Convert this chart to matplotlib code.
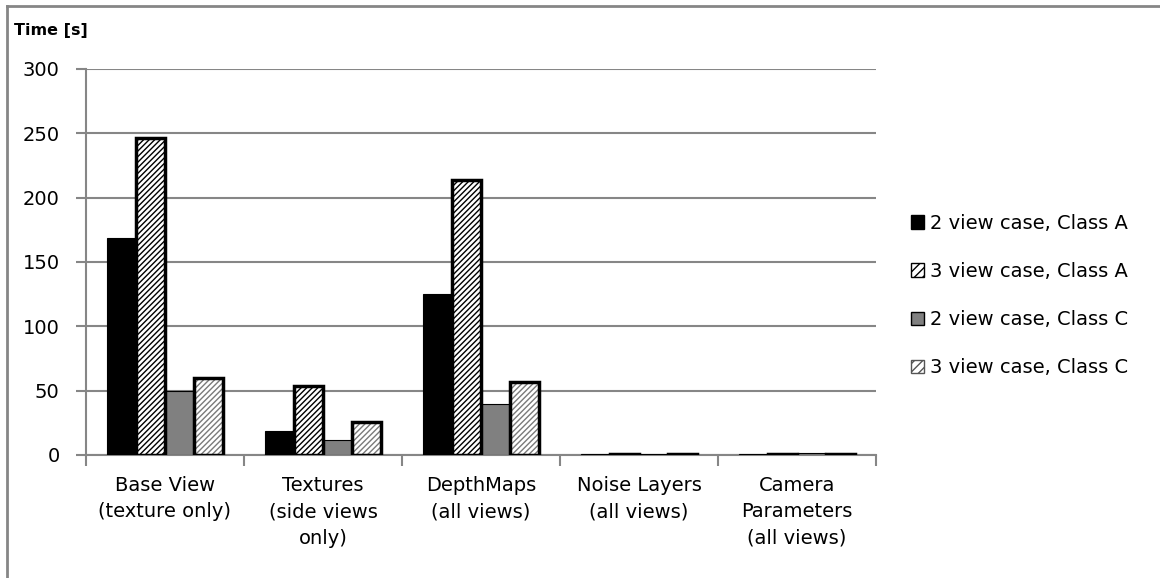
import matplotlib
matplotlib.use("Agg")
import matplotlib.pyplot as plt
import numpy as np
from matplotlib.lines import Line2D
from matplotlib.patches import Patch

categories = ["Base View\n(texture only)", "Textures\n(side views\nonly)",
              "DepthMaps\n(all views)", "Noise Layers\n(all views)",
              "Camera\nParameters\n(all views)"]
series_names = ["2 view case, Class A", "3 view case, Class A",
                "2 view case, Class C", "3 view case, Class C"]
v2A = [169, 19, 125, 0.5, 0.5]
v3A = [246, 54, 214, 0.5, 0.5]
v2C = [50, 12, 40, 0.5, 1.5]
v3C = [60, 26, 57, 0.5, 0.5]
yticks = [0, 50, 100, 150, 200, 250, 300]

plt.rcParams['font.family'] = ['DejaVu Sans']
plt.rcParams['hatch.linewidth'] = 1.0

FS = 14

fig = plt.figure(figsize=(11.6, 5.78), dpi=100)
ax = fig.add_axes([86/1160, 1-455/578, 790/1160, 386/578])

x = np.arange(len(categories))
w = 0.184
offs = [-1.5*w, -0.5*w, 0.5*w, 1.5*w]
grid_c = '#868686'
H = '//////'

ax.bar(x+offs[0], v2A, w, color='black', edgecolor='black', linewidth=0.8, zorder=3)
ax.bar(x+offs[1], v3A, w, color='white', edgecolor='black', hatch=H, linewidth=0, zorder=3)
ax.bar(x+offs[1], v3A, w, fill=False, edgecolor='black', linewidth=2.5, zorder=4)
ax.bar(x+offs[2], v2C, w, color='#808080', edgecolor='black', linewidth=0.8, zorder=3)
ax.bar(x+offs[3], v3C, w, color='white', edgecolor='#7a7a7a', hatch=H, linewidth=0, zorder=3)
ax.bar(x+offs[3], v3C, w, fill=False, edgecolor='black', linewidth=2.5, zorder=4)

ax.set_xlim(-0.5, len(categories)-0.5)
ax.set_ylim(0, 300)
ax.set_yticks(yticks)
ax.set_yticklabels([str(t) for t in yticks], fontsize=FS)
ax.yaxis.grid(True, color=grid_c, linewidth=1.5, zorder=0)
ax.set_axisbelow(True)

ax.set_xticks(x)
ax.set_xticklabels(categories, fontsize=FS, linespacing=1.5)
ax.set_xticks(np.arange(-0.5, len(categories)), minor=True)
ax.tick_params(axis='x', which='major', length=0, pad=15)
ax.tick_params(axis='x', which='minor', length=8, width=1.5, color=grid_c)
ax.tick_params(axis='y', which='major', length=7, width=1.5, color=grid_c, pad=12)

for s in ['top', 'right']:
    ax.spines[s].set_visible(False)
for s in ['left', 'bottom']:
    ax.spines[s].set_color(grid_c)
    ax.spines[s].set_linewidth(1.5)

handles = [
    Patch(facecolor='black', edgecolor='black'),
    Patch(facecolor='white', edgecolor='black', hatch='////', linewidth=1),
    Patch(facecolor='#808080', edgecolor='black', linewidth=1),
    Patch(facecolor='white', edgecolor='#555555', hatch='////', linewidth=1),
]
fig.legend(handles, series_names, loc='upper left', bbox_to_anchor=(903/1160, 1-206/578),
           frameon=False, fontsize=FS, handlelength=0.7, handleheight=0.7,
           handletextpad=0.3, labelspacing=1.5, borderaxespad=0)

fig.text(14/1160, 1-30/578, "Time [s]", fontsize=11.5, fontweight='bold', va='center', ha='left')

fig.add_artist(Line2D([7/1160, 7/1160], [0, 1-6/578], transform=fig.transFigure, color=grid_c, linewidth=2))
fig.add_artist(Line2D([7/1160, 1], [1-6/578, 1-6/578], transform=fig.transFigure, color=grid_c, linewidth=2))

fig.savefig("out.png", dpi=100)
